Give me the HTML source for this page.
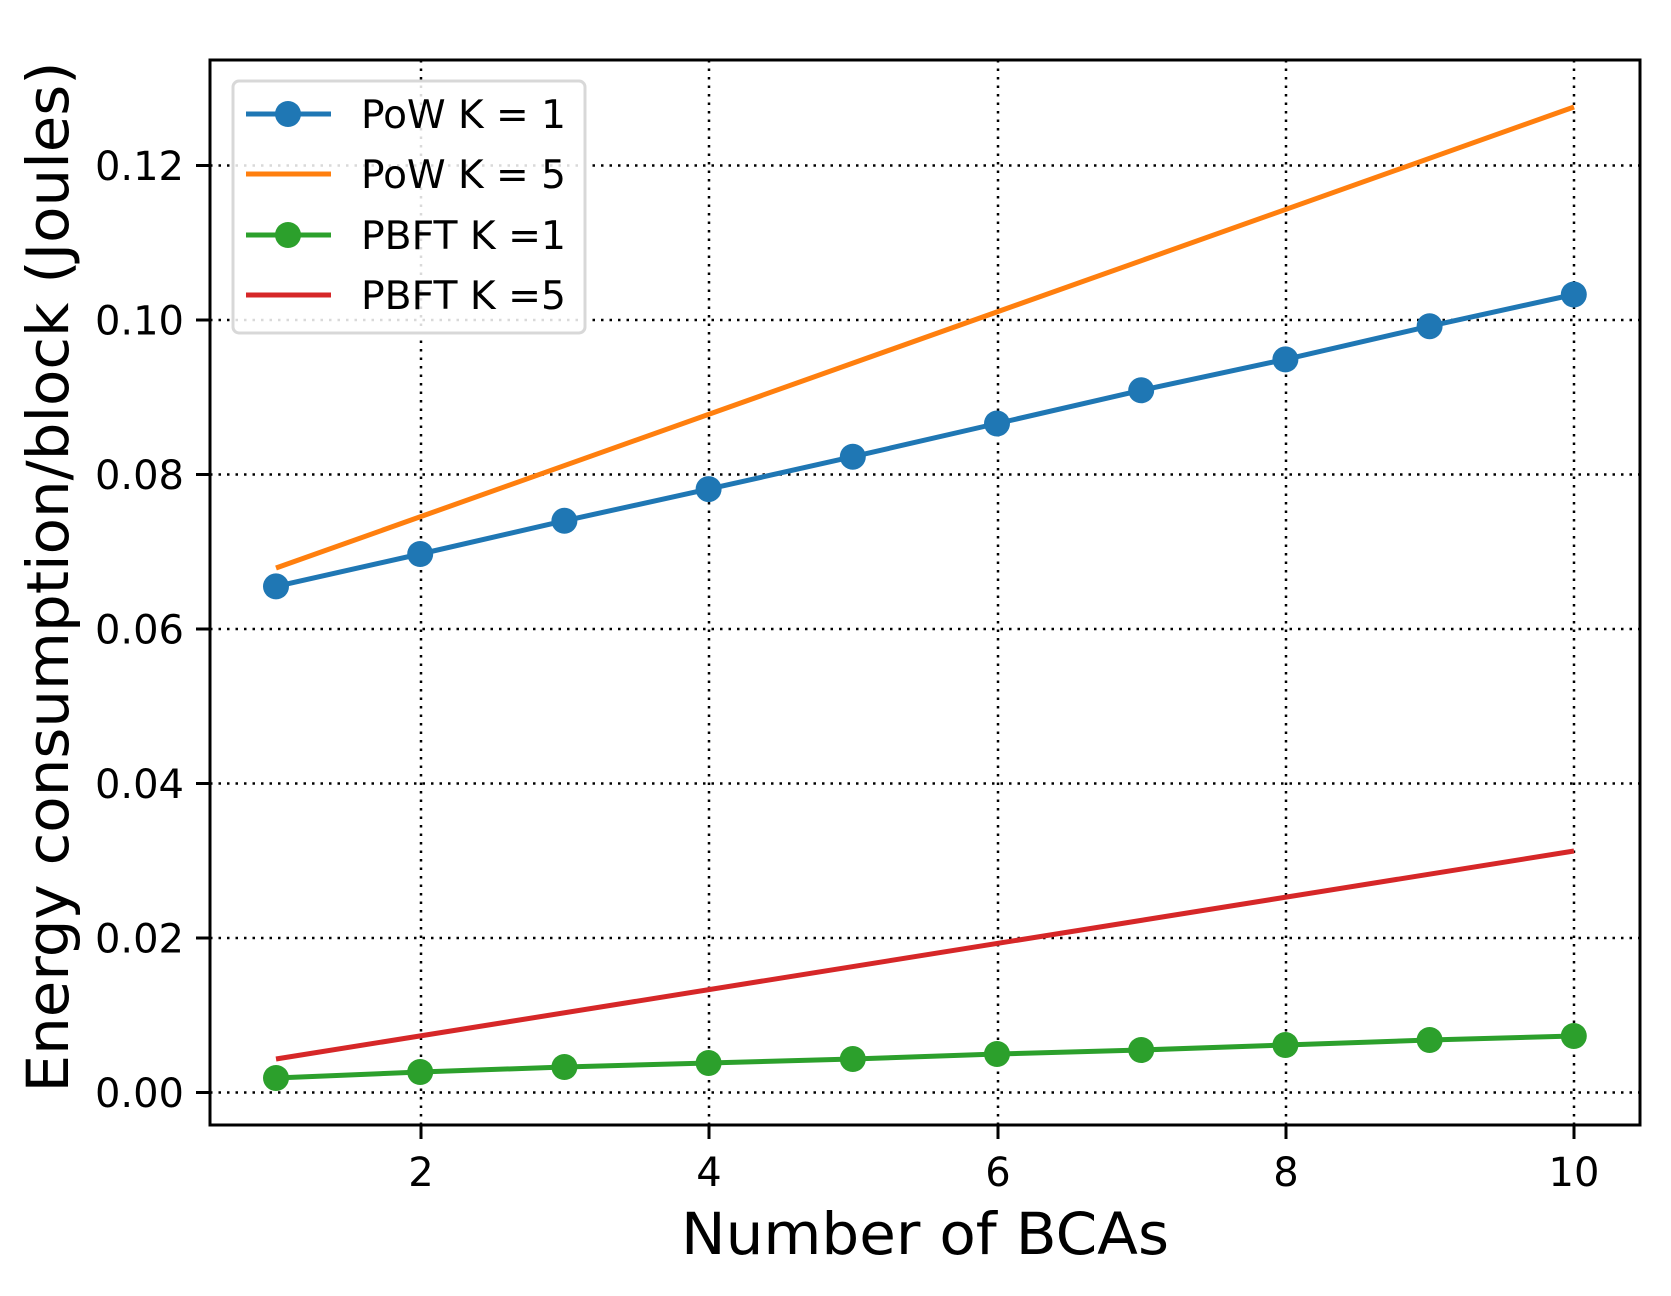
<!DOCTYPE html>
<html><head><style>body{margin:0;background:#fff}svg{display:block}</style></head><body>
<svg width="1671" height="1296" viewBox="0 0 1671 1296" xmlns="http://www.w3.org/2000/svg" font-family="'DejaVu Sans','Liberation Sans',sans-serif">
<rect width="1671" height="1296" fill="#fff"/>
<g stroke="#000" stroke-width="2.5" stroke-dasharray="2.5,6" fill="none">
<line x1="421" y1="60" x2="421" y2="1125"/><line x1="709" y1="60" x2="709" y2="1125"/><line x1="998" y1="60" x2="998" y2="1125"/><line x1="1286" y1="60" x2="1286" y2="1125"/><line x1="1574" y1="60" x2="1574" y2="1125"/>
<line x1="210" y1="1092.5" x2="1640" y2="1092.5"/><line x1="210" y1="938" x2="1640" y2="938"/><line x1="210" y1="783.5" x2="1640" y2="783.5"/><line x1="210" y1="629" x2="1640" y2="629"/><line x1="210" y1="474.5" x2="1640" y2="474.5"/><line x1="210" y1="320" x2="1640" y2="320"/><line x1="210" y1="165.5" x2="1640" y2="165.5"/>
</g>
<g stroke="#000" stroke-width="3">
<line x1="421" y1="1125" x2="421" y2="1139"/><line x1="709" y1="1125" x2="709" y2="1139"/><line x1="998" y1="1125" x2="998" y2="1139"/><line x1="1286" y1="1125" x2="1286" y2="1139"/><line x1="1574" y1="1125" x2="1574" y2="1139"/>
<line x1="196" y1="1092.5" x2="210" y2="1092.5"/><line x1="196" y1="938" x2="210" y2="938"/><line x1="196" y1="783.5" x2="210" y2="783.5"/><line x1="196" y1="629" x2="210" y2="629"/><line x1="196" y1="474.5" x2="210" y2="474.5"/><line x1="196" y1="320" x2="210" y2="320"/><line x1="196" y1="165.5" x2="210" y2="165.5"/>
</g>
<g font-size="40" fill="#000" text-anchor="middle">
<text x="421" y="1186">2</text><text x="709" y="1186">4</text><text x="998" y="1186">6</text><text x="1286" y="1186">8</text><text x="1574" y="1186">10</text>
</g>
<g font-size="40" fill="#000" text-anchor="end">
<text x="184" y="1107">0.00</text><text x="184" y="952.5">0.02</text><text x="184" y="798">0.04</text><text x="184" y="643.5">0.06</text><text x="184" y="489">0.08</text><text x="184" y="334.5">0.10</text><text x="184" y="180">0.12</text>
</g>
<text x="925" y="1254" font-size="58" text-anchor="middle" textLength="488" lengthAdjust="spacingAndGlyphs">Number of BCAs</text>
<text transform="translate(68,577) rotate(-90)" font-size="58" text-anchor="middle" textLength="1031" lengthAdjust="spacingAndGlyphs">Energy consumption/block (Joules)</text>
<g fill="none" stroke-width="5">
<polyline stroke="#ff7f0e" points="276,568 1574,107"/>
<polyline stroke="#d62728" points="276,1059 1574,851"/>
<polyline stroke="#1f77b4" points="276,586.4 420.2,554 564.4,520.8 708.6,489.1 852.8,456.7 997,423.5 1141.2,390.3 1285.4,359.4 1429.6,326.2 1573.8,294.5"/>
<polyline stroke="#2ca02c" points="276,1078 420.2,1072 564.4,1067 708.6,1063 852.8,1059 997,1054 1141.2,1050 1285.4,1045 1429.6,1040 1573.8,1036"/>
</g>
<g fill="#1f77b4">
<circle cx="276" cy="586.4" r="13"/><circle cx="420.2" cy="554" r="13"/><circle cx="564.4" cy="520.8" r="13"/><circle cx="708.6" cy="489.1" r="13"/><circle cx="852.8" cy="456.7" r="13"/><circle cx="997" cy="423.5" r="13"/><circle cx="1141.2" cy="390.3" r="13"/><circle cx="1285.4" cy="359.4" r="13"/><circle cx="1429.6" cy="326.2" r="13"/><circle cx="1573.8" cy="294.5" r="13"/>
</g>
<g fill="#2ca02c">
<circle cx="276" cy="1078" r="13"/><circle cx="420.2" cy="1072" r="13"/><circle cx="564.4" cy="1067" r="13"/><circle cx="708.6" cy="1063" r="13"/><circle cx="852.8" cy="1059" r="13"/><circle cx="997" cy="1054" r="13"/><circle cx="1141.2" cy="1050" r="13"/><circle cx="1285.4" cy="1045" r="13"/><circle cx="1429.6" cy="1040" r="13"/><circle cx="1573.8" cy="1036" r="13"/>
</g>
<rect x="210" y="60" width="1430" height="1065" fill="none" stroke="#000" stroke-width="3"/>
<rect x="233" y="81" width="352" height="252" rx="6" fill="#fff" fill-opacity="0.85" stroke="#d8d8d8" stroke-width="3"/>
<g stroke-width="5">
<line x1="246" y1="114" x2="331" y2="114" stroke="#1f77b4"/><circle cx="288" cy="114" r="13" fill="#1f77b4"/>
<line x1="246" y1="174" x2="331" y2="174" stroke="#ff7f0e"/>
<line x1="246" y1="235" x2="331" y2="235" stroke="#2ca02c"/><circle cx="288" cy="235" r="13" fill="#2ca02c"/>
<line x1="246" y1="295" x2="331" y2="295" stroke="#d62728"/>
</g>
<g font-size="39" fill="#000">
<text x="361" y="128" textLength="205" lengthAdjust="spacingAndGlyphs">PoW K = 1</text><text x="361" y="188" textLength="205" lengthAdjust="spacingAndGlyphs">PoW K = 5</text><text x="361" y="249" textLength="205" lengthAdjust="spacingAndGlyphs">PBFT K =1</text><text x="361" y="309" textLength="205" lengthAdjust="spacingAndGlyphs">PBFT K =5</text>
</g>
</svg>
</body></html>
